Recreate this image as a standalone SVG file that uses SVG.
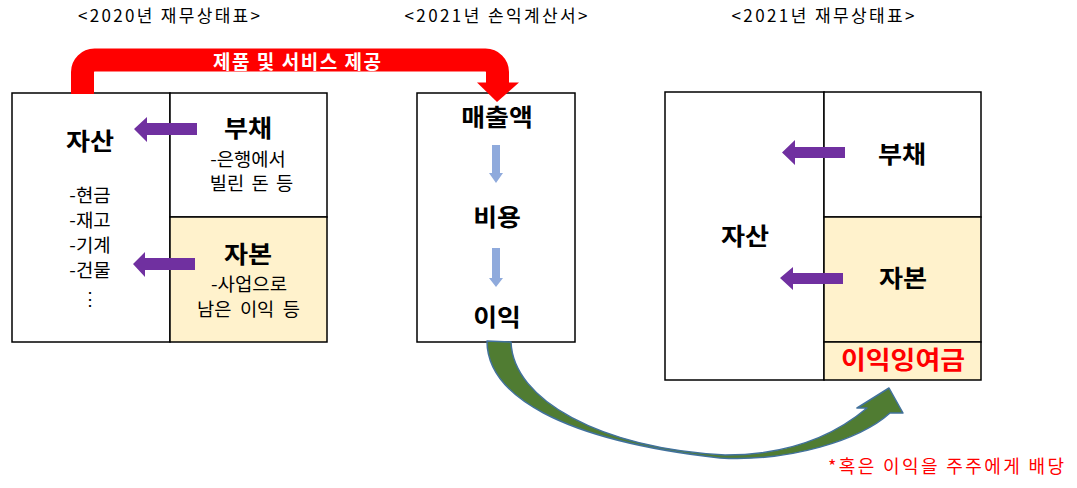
<svg xmlns="http://www.w3.org/2000/svg" width="1077" height="488" viewBox="0 0 1077 488">
<style>
text{font-family:"Noto Sans CJK KR","Noto Sans",sans-serif;text-anchor:middle;fill:#000}
.t{font-size:17px}
.b{font-size:24px;font-weight:bold}
.s{font-size:18px}
.box{fill:#fff;stroke:#000;stroke-width:1.5}
.eq{fill:#FFF2CC;stroke:#000;stroke-width:1.5}
.pa{fill:#7030A0}
.ba{fill:#8FAADC}
</style>
<rect width="1077" height="488" fill="#fff"/>
<text class="t" x="169" y="22" textLength="182" lengthAdjust="spacing">&lt;2020년 재무상태표&gt;</text>
<text class="t" x="496" y="22" textLength="183" lengthAdjust="spacing">&lt;2021년 손익계산서&gt;</text>
<text class="t" x="823" y="22" textLength="183" lengthAdjust="spacing">&lt;2021년 재무상태표&gt;</text>

<g id="bs2020">
<rect class="box" x="12" y="93" width="158" height="249"/>
<rect class="box" x="170" y="93" width="157" height="124"/>
<rect class="eq" x="170" y="217" width="157" height="125"/>
<text class="b" transform="translate(90,150) scale(1.09,1)">자산</text>
<text class="s" transform="translate(90,202) scale(1.05,1)">-현금</text>
<text class="s" transform="translate(90,227) scale(1.05,1)">-재고</text>
<text class="s" transform="translate(90,252) scale(1.05,1)">-기계</text>
<text class="s" transform="translate(90,277) scale(1.05,1)">-건물</text>
<text class="s" x="90" y="305">⋮</text>
<text class="b" transform="translate(248,137) scale(1.09,1)">부채</text>
<text class="s" transform="translate(248,166) scale(1.04,1)">-은행에서</text>
<text class="s" transform="translate(251.5,190) scale(1.04,1)" style="word-spacing:3px">빌린 돈 등</text>
<text class="b" transform="translate(248,263) scale(1.09,1)">자본</text>
<text class="s" transform="translate(249,291) scale(1.05,1)">-사업으로</text>
<text class="s" transform="translate(248.5,316) scale(1.04,1)" style="word-spacing:4px">남은 이익 등</text>
</g>

<g id="is2021">
<rect class="box" x="417" y="93" width="158" height="249"/>
<text class="b" transform="translate(497,126) scale(1.08,1)">매출액</text>
<text class="b" transform="translate(497,226) scale(1.08,1)">비용</text>
<text class="b" transform="translate(497,326) scale(1.08,1)">이익</text>
</g>

<g id="bs2021">
<rect class="box" x="665" y="92" width="159" height="288"/>
<rect class="box" x="824" y="92" width="157" height="125"/>
<rect class="eq" x="824" y="217" width="157" height="125"/>
<rect class="eq" x="824" y="342" width="157" height="38"/>
<text class="b" transform="translate(745,245) scale(1.09,1)">자산</text>
<text class="b" transform="translate(902,163) scale(1.09,1)">부채</text>
<text class="b" transform="translate(903,287) scale(1.09,1)">자본</text>
<text class="b" transform="translate(903,369) scale(1.08,1)" style="fill:#FF0000;font-size:25px">이익잉여금</text>
</g>

<g id="connectors">
<path d="M82.5,94 V72 A12,12 0 0 1 94.5,60 H485.5 A12,12 0 0 1 497.5,72 V84" fill="none" stroke="#FF0000" stroke-width="23"/>
<polygon points="477,82.5 519,82.5 497,102" fill="#FF0000"/>
<text x="297" y="69" style="fill:#fff;font-size:19px;font-weight:bold" textLength="168" lengthAdjust="spacing">제품 및 서비스 제공</text>

<polygon class="pa" points="134,129 147,117 147,123 197,123 197,135 147,135 147,142"/>
<polygon class="pa" points="133,264 145,252 145,258 195,258 195,270 145,270 145,277"/>
<polygon class="pa" points="782,152.5 795,140 795,147 845,147 845,158 795,158 795,165"/>
<polygon class="pa" points="780,278 793,267 793,273 843,273 843,284 793,284 793,290"/>

<polygon class="ba" points="492,145 500,145 500,173 503,173 496,183 489,173 492,173"/>
<polygon class="ba" points="492,248 500,248 500,278 503,278 496,287 489,278 492,278"/>

<path d="M487,341 C487,395 560,440 720,458 C790,462 860,440 890,413 L903,413 L889,388 L857,408 L867,408 C835,435 790,455 725,455 C600,448 513,400 511,342 Z" fill="#507C32" stroke="#41719C" stroke-width="1.5" stroke-linejoin="round"/>
</g>

<text x="946" y="473" style="fill:#FF0000;font-size:18px" textLength="236" lengthAdjust="spacing">*혹은 이익을 주주에게 배당</text>
</svg>
